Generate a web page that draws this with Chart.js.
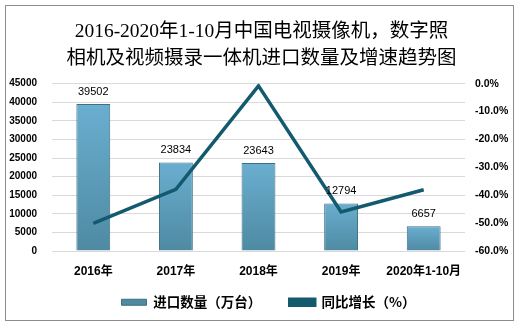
<!DOCTYPE html>
<html>
<head>
<meta charset="utf-8">
<script src="https://cdn.jsdelivr.net/npm/chart.js@4"></script>
<style>
  body { margin: 0; background: #fff; }
  #wrap { position: relative; width: 517px; height: 325px; }
  #frame { position: absolute; left: 5px; top: 5px; width: 507px; height: 314px; border: 1px solid #8c8c8c; pointer-events: none; }
  canvas { position: absolute; left: 0; top: 0; }
</style>
</head>
<body>
<div id="wrap">
  <canvas id="myChart" width="517" height="325"></canvas>
  <div id="frame"></div>
</div>
<script>
var categories = ['2016年', '2017年', '2018年', '2019年', '2020年1-10月'];
var imports = [39502, 23834, 23643, 12794, 6657];   // 进口数量（万台）
var growth = [-50.1, -37.9, -0.8, -46.0, -38.0];    // 同比增长（%）
var leftTicks = [0, 5000, 10000, 15000, 20000, 25000, 30000, 35000, 40000, 45000];
var rightTicks = [-60, -50, -40, -30, -20, -10, 0];

var barBorder = '#3f6f84';
var lineColor = '#145a6e';

// bar gradient, light on top, darker at the base
function barFill(context) {
  var chart = context.chart;
  var area = chart.chartArea;
  if (!area) return '#5f9fc0';
  var top = chart.scales.y.getPixelForValue(context.raw);
  var g = chart.ctx.createLinearGradient(0, top, 0, area.bottom);
  g.addColorStop(0, '#6aaed0');
  g.addColorStop(1, '#4e8aa2');
  return g;
}

// value labels over the bars
var barLabels = {
  id: 'barLabels',
  afterDatasetsDraw: function(chart) {
    var ctx = chart.ctx;
    var meta = chart.getDatasetMeta(1);
    ctx.save();
    ctx.font = '11px "Liberation Sans", Arial, sans-serif';
    ctx.fillStyle = '#000';
    ctx.textAlign = 'center';
    ctx.textBaseline = 'bottom';
    meta.data.forEach(function(bar, i) {
      ctx.fillText(String(imports[i]), bar.x, bar.y - 7);
    });
    ctx.restore();
  }
};

// nudge the legend a little to the right, like the original
var legendShift = {
  id: 'legendShift',
  afterLayout: function(chart) {
    if (chart.legend) {
      chart.legend.left += 7;
      chart.legend.right += 7;
    }
  }
};

var ctx = document.getElementById('myChart').getContext('2d');

var myChart = new Chart(ctx, {
  data: {
    labels: categories,
    datasets: [{
      type: 'line',
      label: '同比增长（%）',
      data: growth,
      yAxisID: 'y1',
      borderColor: lineColor,
      backgroundColor: lineColor,
      borderWidth: 3.5,
      pointRadius: 0,
      tension: 0,
      order: 0
    }, {
      type: 'bar',
      label: '进口数量（万台）',
      data: imports,
      yAxisID: 'y',
      backgroundColor: barFill,
      borderColor: barBorder,
      borderWidth: 1,
      barPercentage: 0.41,
      categoryPercentage: 1,
      order: 1
    }]
  },
  options: {
    responsive: false,
    animation: false,
    layout: { padding: { top: 6, bottom: 6, left: 6, right: 0 } },
    scales: {
      x: {
        grid: { display: false, drawTicks: false },
        border: { display: false },
        ticks: {
          color: '#000',
          padding: 13,
          font: { family: '"Liberation Sans", "Noto Sans CJK SC", sans-serif', size: 12, weight: 'bold' }
        }
      },
      y: {
        position: 'left',
        min: 0,
        max: 45000,
        afterBuildTicks: function(axis) {
          axis.ticks = leftTicks.map(function(v) { return { value: v }; });
        },
        afterFit: function(axis) { axis.width = 46; },
        grid: { color: '#d9d9d9', drawTicks: false },
        border: { display: false },
        ticks: {
          color: '#000',
          padding: 15,
          font: { family: '"Liberation Sans", Arial, sans-serif', size: 10, weight: 'bold' },
          callback: function(value) { return String(value); }
        }
      },
      y1: {
        position: 'right',
        min: -60,
        max: 0,
        afterBuildTicks: function(axis) {
          axis.ticks = rightTicks.map(function(v) { return { value: v }; });
        },
        afterFit: function(axis) { axis.width = 52; },
        grid: { display: false, drawTicks: false },
        border: { display: false },
        ticks: {
          color: '#000',
          padding: 10,
          font: { family: '"Liberation Sans", Arial, sans-serif', size: 10.5, weight: 'bold' },
          callback: function(value) { return value.toFixed(1) + '%'; }
        }
      }
    },
    plugins: {
      title: {
        display: true,
        text: ['2016-2020年1-10月中国电视摄像机，数字照', '相机及视频摄录一体机进口数量及增速趋势图'],
        color: '#000',
        font: { family: '"Liberation Serif", "Noto Sans CJK SC", serif', size: 19.5, weight: 'normal', lineHeight: 1.35 },
        padding: { top: 13, bottom: 12 }
      },
      legend: {
        position: 'bottom',
        reverse: true,
        labels: {
          color: '#000',
          boxWidth: 25,
          boxHeight: 6,
          padding: 4,
          font: { family: '"Noto Sans CJK SC", sans-serif', size: 13.5, weight: 'bold' },
          generateLabels: function(chart) {
            var items = Chart.defaults.plugins.legend.labels.generateLabels(chart);
            items.forEach(function(item) {
              if (item.datasetIndex === 1) item.text = item.text + '        ';
            });
            return items;
          }
        }
      },
      tooltip: { enabled: false }
    }
  },
  plugins: [barLabels, legendShift]
});
</script>
</body>
</html>
